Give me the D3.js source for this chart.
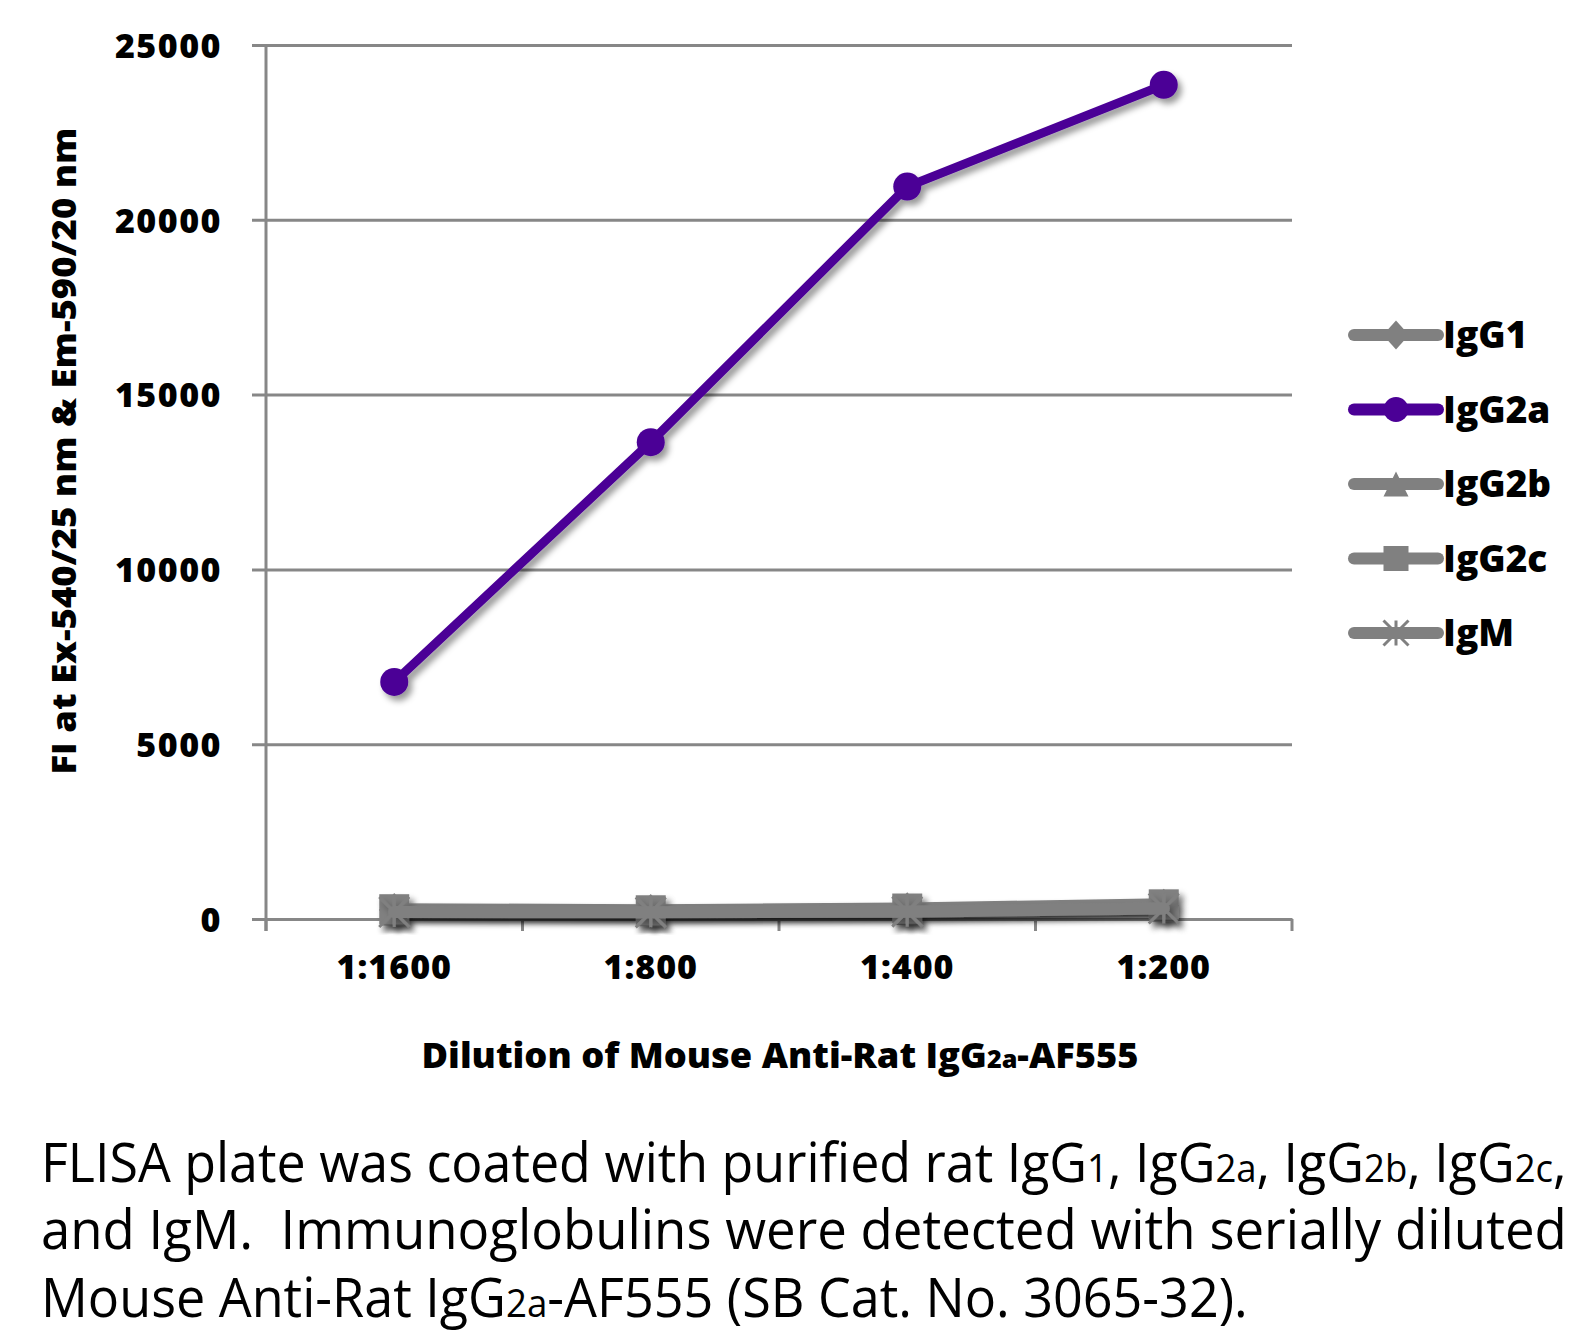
<!DOCTYPE html>
<html><head><meta charset="utf-8">
<script src="https://cdn.jsdelivr.net/npm/d3@7"></script>
<style>
html,body{margin:0;padding:0;background:#fff;}
svg{display:block;}
</style></head>
<body>
<script>
// ---- data ----
const categories = ["1:1600", "1:800", "1:400", "1:200"];
const seriesNames = ["IgG1", "IgG2a", "IgG2b", "IgG2c", "IgM"];
const IgG1  = [260, 230, 280, 380];
const IgG2a = [6780, 13640, 20950, 23860];
const IgG2b = [240, 220, 260, 350];
const IgG2c = [280, 250, 300, 420];
const IgM   = [200, 190, 210, 300];
const yTicks = [0, 5000, 10000, 15000, 20000, 25000];
const seriesValues = [IgG1, IgG2a, IgG2b, IgG2c, IgM];
const seriesColors = ["#808080", "#4B0096", "#808080", "#808080", "#808080"];
const seriesMarkers = ["diamond", "circle", "triangle", "square", "asterisk"];

const W = 1596, H = 1333;
const svg = d3.select("body").append("svg").attr("width", W).attr("height", H);

const defs = svg.append("defs");
defs.append("filter").attr("id", "shadow").attr("x", "-20%").attr("y", "-20%").attr("width", "140%").attr("height", "140%")
  .append("feDropShadow").attr("dx", 4).attr("dy", 5).attr("stdDeviation", 3)
  .attr("flood-color", "#000").attr("flood-opacity", 0.4);

const plot = {left: 266, right: 1292, top: 45, bottom: 919};
const x = d3.scaleBand().domain(categories).range([plot.left, plot.right]).padding(0);
const y = d3.scaleLinear().domain([0, 25000]).range([plot.bottom, plot.top]);
const axisColor = "#878787";
const boldFont = "'Open Sans', 'DejaVu Sans', sans-serif";

// gridlines + y tick labels
const gy = svg.append("g").attr("transform", `translate(${plot.right},0)`)
  .call(d3.axisLeft(y).tickValues(yTicks).tickSize(plot.right - plot.left + 14).tickPadding(30).tickFormat(d3.format("d")));
gy.select(".domain").remove();
gy.selectAll(".tick line").attr("stroke", axisColor).attr("stroke-width", 3);
gy.selectAll(".tick text").attr("fill", "#000").style("font-family", boldFont).style("font-weight", 800)
  .style("font-size", "34px").style("letter-spacing", "1.5px").attr("dy", "0.36em");

// y axis line
svg.append("line").attr("x1", plot.left).attr("x2", plot.left).attr("y1", y(25000)).attr("y2", y(0) + 12)
  .attr("stroke", axisColor).attr("stroke-width", 3);

// x axis
const gx = svg.append("g").attr("transform", `translate(0,${y(0)})`)
  .call(d3.axisBottom(x).tickSize(0).tickPadding(36));
gx.select(".domain").attr("stroke", axisColor).attr("stroke-width", 3);
gx.selectAll(".tick text").attr("fill", "#000").style("font-family", boldFont).style("font-weight", 800)
  .style("font-size", "34px").style("letter-spacing", "1px");
const bounds = categories.map(c => x(c)).concat([x.range()[1]]);
svg.append("g").selectAll("line").data(bounds).join("line")
  .attr("x1", d => d).attr("x2", d => d).attr("y1", y(0)).attr("y2", y(0) + 12)
  .attr("stroke", axisColor).attr("stroke-width", 3);

// marker drawing
function drawMarker(g, type, cx, cy, s, color) {
  if (type === "circle") {
    g.append("circle").attr("cx", cx).attr("cy", cy).attr("r", s / 2).attr("fill", color);
  } else if (type === "square") {
    g.append("rect").attr("x", cx - s / 2).attr("y", cy - s / 2).attr("width", s).attr("height", s).attr("fill", color);
  } else if (type === "diamond") {
    const h = s / 2 + 2;
    g.append("path").attr("d", `M${cx},${cy - h}L${cx + h * 0.9},${cy}L${cx},${cy + h}L${cx - h * 0.9},${cy}Z`).attr("fill", color);
  } else if (type === "triangle") {
    const h = s / 2;
    g.append("path").attr("d", `M${cx},${cy - h}L${cx + h},${cy + h}L${cx - h},${cy + h}Z`).attr("fill", color);
  } else if (type === "asterisk") {
    const h = s / 2;
    const p = `M${cx - h},${cy - h}L${cx + h},${cy + h}M${cx - h},${cy + h}L${cx + h},${cy - h}M${cx},${cy - h}L${cx},${cy + h}`;
    g.append("path").attr("d", p).attr("stroke", color).attr("stroke-width", 3).attr("fill", "none");
  }
}

// series
const line = d3.line().x((d, i) => x(categories[i]) + x.bandwidth() / 2).y(d => y(d));
seriesNames.forEach((name, si) => {
  const g = svg.append("g").attr("filter", "url(#shadow)");
  const vals = seriesValues[si];
  g.append("path").datum(vals).attr("d", line).attr("fill", "none")
    .attr("stroke", seriesColors[si]).attr("stroke-width", si === 1 ? 9 : 12)
    .attr("stroke-linejoin", "round").attr("stroke-linecap", "round");
  vals.forEach((v, i) => {
    drawMarker(g, seriesMarkers[si], x(categories[i]) + x.bandwidth() / 2, y(v), si === 1 ? 28 : 30, seriesColors[si]);
  });
});

// legend
const legend = svg.append("g");
seriesNames.forEach((name, si) => {
  const ly = 335 + si * 74.5;
  const g = legend.append("g");
  g.append("line").attr("x1", 1354).attr("x2", 1438).attr("y1", ly).attr("y2", ly)
    .attr("stroke", seriesColors[si]).attr("stroke-width", 12).attr("stroke-linecap", "round");
  drawMarker(g, seriesMarkers[si], 1396, ly, 25, seriesColors[si]);
  g.append("text").attr("x", 1443).attr("y", ly).attr("dy", "0.36em")
    .style("font-family", boldFont).style("font-weight", 800).style("font-size", "37px").text(name);
});

// y axis title
svg.append("text").attr("transform", "translate(76,451) rotate(-90)").attr("text-anchor", "middle")
  .style("font-family", boldFont).style("font-weight", 800).style("font-size", "34px")
  .attr("textLength", 647).attr("lengthAdjust", "spacingAndGlyphs")
  .text("FI at Ex-540/25 nm & Em-590/20 nm");

// x axis title
const xt = svg.append("text").attr("x", 780).attr("y", 1068).attr("text-anchor", "middle")
  .style("font-family", boldFont).style("font-weight", 800).style("font-size", "36px")
  .attr("textLength", 717).attr("lengthAdjust", "spacingAndGlyphs");
xt.append("tspan").text("Dilution of Mouse Anti-Rat IgG");
xt.append("tspan").style("font-size", "25px").text("2a");
xt.append("tspan").text("-AF555");

// caption (scaled horizontally to fit measured widths)
const capFont = "'Open Sans', 'Noto Sans', sans-serif";
const capLines = [
  {y: 1182, len: 1526, parts: [["FLISA plate was coated with purified rat IgG", 0], ["1", 1], [", IgG", 0], ["2a", 1], [", IgG", 0], ["2b", 1], [", IgG", 0], ["2c", 1], [",", 0]]},
  {y: 1249, len: 1526, parts: [["and IgM.  Immunoglobulins were detected with serially diluted", 0]]},
  {y: 1317, len: 1207, parts: [["Mouse Anti-Rat IgG", 0], ["2a", 1], ["-AF555 (SB Cat. No. 3065-32).", 0]]}
];
capLines.forEach(l => {
  const t = svg.append("text").attr("x", 0).attr("y", 0)
    .style("font-family", capFont).style("font-size", "54px").style("white-space", "pre");
  l.parts.forEach(p => t.append("tspan").style("font-size", p[1] ? "38px" : null).text(p[0]));
  const natural = t.node().getComputedTextLength();
  const sx = l.len / natural;
  t.attr("transform", `translate(41,${l.y}) scale(${sx},1)`);
});
</script>
</body></html>
